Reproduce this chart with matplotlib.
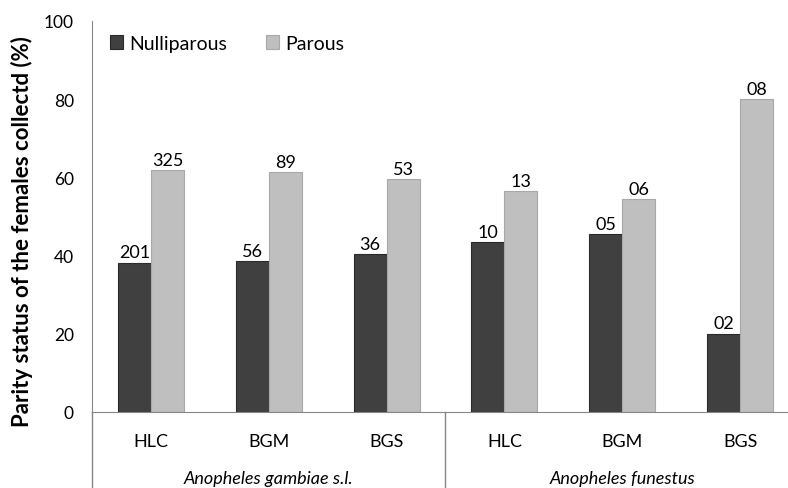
import numpy as np
import matplotlib
matplotlib.use("Agg")
import matplotlib.pyplot as plt

plt.rcParams['font.family'] = ['Lato', 'DejaVu Sans']

# data
sites = ['HLC', 'BGM', 'BGS', 'HLC', 'BGM', 'BGS']
species = ['Anopheles gambiae s.l.', 'Anopheles funestus']
nulli_pct = [38.2, 38.6, 40.4, 43.5, 45.5, 20.0]
parous_pct = [61.8, 61.4, 59.6, 56.5, 54.5, 80.0]
nulli_lbl = ['201', '56', '36', '10', '05', '02']
parous_lbl = ['325', '89', '53', '13', '06', '08']

dark = '#404040'
light = '#bfbfbf'
axcol = '#868686'

fig = plt.figure(figsize=(7.88, 4.89), dpi=100)
ax = fig.add_axes([92/788, 76/489, 707/788, 391/489])

x = np.arange(len(sites))
w = 0.28
b1 = ax.bar(x - w/2, nulli_pct, w, color=dark, edgecolor='#2a2a2a', linewidth=0.8, label='Nulliparous')
b2 = ax.bar(x + w/2, parous_pct, w, color=light, edgecolor='#a8a8a8', linewidth=0.8, label='Parous')

for bars, labs in [(b1, nulli_lbl), (b2, parous_lbl)]:
    for r, s in zip(bars, labs):
        ax.text(r.get_x() + r.get_width()/2, r.get_height() + 0.6, s,
                ha='center', va='bottom', fontsize=13, color='black')

ax.set_xlim(-0.5, 5.5)
ax.set_ylim(0, 100)
ax.set_yticks([0, 20, 40, 60, 80, 100])
ax.tick_params(axis='y', length=0, pad=13, labelsize=12.5)
ax.set_xticks([])

for s in ['top', 'right']:
    ax.spines[s].set_visible(False)
ax.spines['left'].set_color(axcol)
ax.spines['bottom'].set_color(axcol)

# two-level category axis
tr = ax.get_xaxis_transform()
for xi, s in zip(x, sites):
    ax.text(xi, -0.075, s, transform=tr, ha='center', va='center', fontsize=13)
for i, sp in enumerate(species):
    ax.text(1 + 3*i, -0.17, sp, transform=tr, ha='center', va='center',
            fontsize=13, style='italic')
for xb in [-0.5, 2.5]:
    ax.plot([xb, xb], [0, -0.25], transform=tr, color=axcol, lw=1.0, clip_on=False)

ax.set_ylabel('Parity status of the females collectd (%)', fontsize=16, fontweight='bold')
ax.yaxis.set_label_coords(-0.083, 0.465)

ax.legend(loc='upper left', bbox_to_anchor=(0.0, 1.01), ncol=2, frameon=False,
          fontsize=14, handlelength=0.7, handleheight=0.7, handletextpad=0.3,
          columnspacing=2.0)

fig.savefig('out.png', dpi=100)
